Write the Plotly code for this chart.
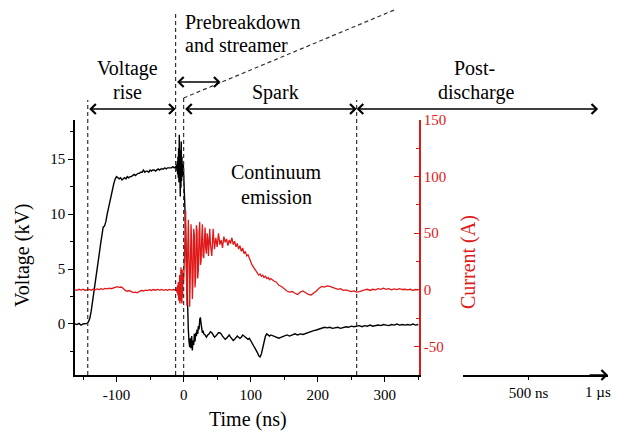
import plotly.graph_objects as go

W, H = 617, 433
FONT = "Liberation Serif"
RED = "#e01818"

# ---------------- data ----------------
# Voltage (kV) vs time (ns)
t_v_rise = [-162, -159, -156, -153, -150, -147, -144, -142, -140, -138, -136, -134, -132, -130,
            -128, -126, -124, -122, -120, -118, -116, -114, -112, -110, -108, -106, -104, -102,
            -100, -98, -96, -94, -92, -90, -88, -86, -84, -82, -80, -78, -76, -74, -72, -70,
            -68, -66, -64, -62, -60, -58, -56, -54, -52, -50, -48, -46, -44, -42, -40, -38,
            -36, -34, -32, -30, -28, -26, -24, -22, -20, -18, -16, -14, -12]
v_rise = [0.0, -0.05, 0.05, -0.1, 0.0, 0.05, 0.05, 0.2, 0.5, 1.1, 1.9, 2.8, 3.7, 4.6,
          5.5, 6.3, 7.2, 8.2, 8.8, 8.9, 9.3, 10.0, 10.6, 11.2, 11.8, 12.3, 12.8, 13.2,
          13.4, 13.3, 13.2, 13.3, 13.1, 13.2, 13.3, 13.2, 13.4, 13.3, 13.4, 13.4, 13.5, 13.6, 13.5, 13.6,
          13.7, 13.7, 13.8, 13.8, 14.0, 13.8, 13.9, 13.9, 13.8, 14.0, 13.9, 14.0, 14.0, 13.9, 14.0, 14.1,
          14.0, 14.1, 14.1, 14.1, 14.2, 14.1, 14.2, 14.2, 14.2, 14.2, 14.3, 14.2, 14.3]
t_v_break = [-11, -10.5, -10, -9.5, -9, -8.5, -8, -7.5, -7, -6.5, -6, -5.5, -5, -4.5, -4,
             -3.5, -3, -2.5, -2, -1.5, -1, -0.5, 0]
v_break = [14.2, 14.5, 13.9, 14.8, 13.6, 15.2, 13.3, 16.0, 12.9, 17.2, 12.2, 16.4, 11.6, 15.8, 12.4,
           16.6, 13.0, 15.2, 13.4, 14.9, 13.6, 14.6, 14.0]
t_v_drop = [1, 2, 3, 4, 5, 6, 7, 8, 9, 10, 11, 12, 13, 14, 15, 16, 17, 18, 19, 20,
            21, 22, 23, 24, 25, 26, 27, 28, 29, 30]
v_drop = [12.6, 10.4, 7.9, 5.4, 3.0, 1.0, -0.5, -1.6, -2.1, -1.3, -2.2, -1.1, -2.4, -1.5, -1.9,
          -0.9, -1.6, -0.8, -1.1, -0.5, -0.9, -0.2, -0.5, 0.4, 0.6, 0.0, -0.5, -0.8, -0.6, -0.9]
t_v_spark = [32, 34, 36, 38, 40, 42, 44, 46, 48, 50, 52, 54, 56, 58, 60, 62, 64, 66, 68, 70,
             72, 74, 76, 78, 80, 82, 84, 86, 88, 90, 92, 94, 96, 98, 100, 102, 104, 106, 108, 110,
             112, 114, 116, 118, 120, 122, 124, 126, 128, 130]
v_spark = [-1.0, -1.2, -1.0, -0.9, -0.7, -0.8, -1.0, -1.2, -1.1, -0.9,
           -0.8, -0.8, -0.9, -1.1, -1.3, -1.4, -1.3, -1.1, -1.0, -1.2,
           -1.4, -1.5, -1.4, -1.2, -1.1, -1.2, -1.3, -1.2, -1.0, -1.1,
           -1.2, -1.3, -1.4, -1.3, -1.5, -1.7, -1.9, -2.1, -2.4, -2.6,
           -2.9, -3.0, -2.7, -2.1, -1.5, -1.1, -0.9, -1.0, -1.1, -1.0]
t_v_post = [134, 138, 142, 146, 150, 154, 158, 162, 166, 170, 174, 178, 182, 186, 190, 194, 198,
            202, 206, 210, 214, 218, 222, 226, 230, 234, 238, 242, 246, 250, 254, 258, 262, 266,
            270, 274, 278, 282, 286, 290, 294, 298, 302, 306, 310, 314, 318, 322, 326, 330, 334,
            338, 342, 346, 350]
v_post = [-1.1, -1.2, -1.3, -1.2, -1.1, -1.0, -1.1, -1.0, -0.9, -1.0,
          -0.9, -0.95, -0.85, -0.8, -0.7, -0.6, -0.55, -0.45, -0.4, -0.3,
          -0.35, -0.3, -0.4, -0.35, -0.3, -0.4, -0.3, -0.25, -0.3, -0.2,
          -0.25, -0.2, -0.15, -0.25, -0.15, -0.2, -0.1, -0.2, -0.15, -0.1,
          -0.15, -0.05, -0.1, -0.15, -0.05, -0.1, 0.0, -0.1, -0.05, -0.1,
          -0.05, -0.1, 0.0, -0.1, -0.05]

# Current (A) vs time (ns)
t_i_pre = [-162, -159, -156, -153, -150, -147, -144, -141, -138, -135,
           -132, -129, -126, -123, -120, -117, -114, -111, -108, -105,
           -102, -99, -96, -93, -90, -87, -84, -81, -78, -75,
           -72, -69, -66, -63, -60, -57, -54, -51, -48, -45,
           -42, -39, -36, -33, -30, -27, -24, -21, -18, -15, -12]
i_pre = [0.3, -0.4, 0.5, -0.2, 0.6, -0.5, 0.2, 0.4, -0.3, 0.5,
         0.0, 0.8, 0.2, 1.0, 0.5, 1.2, 0.8, 1.5, 1.0, 1.8,
         2.4, 2.8, 2.2, 2.5, 1.2, -0.5, -1.2, -0.6, -1.6, -2.4,
         -2.0, -2.6, -1.2, -0.6, -1.0, -0.3, -0.6, 0.2, -0.5, 0.3,
         -0.3, 0.4, -0.2, 0.3, -0.4, 0.2, -0.3, 0.4, -0.2, 0.3, 0.0]
t_i_break = [-11, -10.5, -10, -9.5, -9, -8.5, -8, -7.5, -7, -6.5, -6, -5.5, -5, -4.5, -4,
             -3.5, -3, -2.5, -2, -1.5, -1, -0.5, 0]
i_break = [0.5, -1.5, 2.5, -3, 4, -5, 7, -8, 10, -10, 13, -12, 17, -11, 20,
           -9, 15, -12, 18, -6, 12, -3, 8]
t_i_osc = [1, 2, 3, 4, 5, 6, 7, 8, 9, 10, 11, 12, 13, 14, 15, 16, 17, 18, 19, 20,
           21, 22, 23, 24, 25, 26, 27, 28, 29, 30, 31, 32, 33, 34, 35, 36, 37, 38, 39, 40]
i_osc = [25, 48, 70, 20, -14, 30, 62, 28, -15, 15,
         58, 42, -8, 10, 54, 48, 2, 12, 57, 52,
         10, 18, 50, 60, 22, 25, 46, 58, 30, 28,
         44, 55, 36, 32, 50, 46, 30, 42, 54, 40]
t_i_decay = [42, 44, 46, 48, 50, 52, 54, 56, 58, 60, 62, 64, 66, 68, 70, 72, 74, 76, 78, 80,
             82, 84, 86, 88, 90, 92, 94, 96, 98, 100, 102, 104, 106, 108, 110, 112, 114, 116,
             118, 120, 122, 124, 126, 128, 130]
i_decay = [30, 54, 36, 46, 38, 50, 40, 44, 37, 47,
           42, 45, 39, 44, 41, 46, 40, 43, 38, 41,
           36, 39, 34, 37, 32, 34, 30, 31, 27, 25,
           22, 20, 18, 16, 15, 13, 14, 12, 13, 11,
           12, 10, 11, 9, 10]
t_i_post = t_v_post
i_post = [8, 7, 4, 3, 1, -1, -2, -1.5, -3, -4,
          -2, -1, -2.5, -4, -4.5, -3, -1, 1.5, 3, 2.5,
          3.5, 3, 2, 1, 0.5, 1, -0.5, 0, -1, -1.5,
          -1, -2, -1.5, -0.5, 0, 0.5, -0.5, 0.5, 0, 1,
          0.5, 1.5, 0.5, 1, 0, 0.8, 0.2, 1, 0.3, 0.5,
          0, 0.5, -0.5, 0.3, 0]

# axes / annotations content
x_ticks = [-100, 0, 100, 200, 300]
x_tick_text = ["-100", "0", "100", "200", "300"]
v_ticks = [0, 5, 10, 15]
i_ticks = [-50, 0, 50, 100, 150]
i_tick_text = ["-50", "0", "50", "100", "150"]
phase_bounds = [-143, -12, 0, 258]          # ns, dashed phase boundaries
prebreak_arrow_end = 55                     # ns

t_v = t_v_rise + t_v_break + t_v_drop + t_v_spark + t_v_post
v = v_rise + v_break + v_drop + v_spark + v_post
t_i = t_i_pre + t_i_break + t_i_osc + t_i_decay + t_i_post
cur = i_pre + i_break + i_osc + i_decay + i_post


def py(px):
    return 1 - px / H


def pxx(px):
    return px / W


fig = go.Figure()
fig.add_trace(go.Scatter(x=t_v, y=v, mode="lines", line=dict(color="black", width=1.4),
                         name="Voltage", hoverinfo="skip"))
fig.add_trace(go.Scatter(x=t_i, y=cur, mode="lines", yaxis="y2", line=dict(color=RED, width=1.3),
                         name="Current", hoverinfo="skip"))
fig.add_trace(go.Scatter(x=[], y=[], xaxis="x2", yaxis="y", showlegend=False, hoverinfo="skip"))

tickfont = dict(family=FONT, size=15, color="black")
fig.update_layout(
    width=W, height=H, margin=dict(l=0, r=0, t=0, b=0, autoexpand=False),
    paper_bgcolor="white", plot_bgcolor="white", showlegend=False,
    font=dict(family=FONT, size=15, color="black"),
    xaxis=dict(domain=[pxx(75), pxx(419)], range=[-162, 351], anchor="y", automargin=False,
               tickmode="array", tickvals=x_ticks, ticktext=x_tick_text, tickfont=tickfont,
               ticks="outside", ticklen=5, tickwidth=1.2, tickcolor="black",
               showline=True, linecolor="black", linewidth=1.5,
               showgrid=False, zeroline=False,
               minor=dict(dtick=50, tick0=0, ticks="outside", ticklen=3, tickwidth=1,
                          tickcolor="black", showgrid=False)),
    yaxis=dict(domain=[py(375), py(120)], range=[-4.64, 18.55], anchor="x", automargin=False,
               tickmode="array", tickvals=v_ticks, tickfont=tickfont,
               ticks="outside", ticklen=5, tickwidth=1.2, tickcolor="black",
               showline=True, linecolor="black", linewidth=1.5,
               showgrid=False, zeroline=False,
               minor=dict(dtick=2.5, tick0=0, ticks="outside", ticklen=3, tickwidth=1,
                          tickcolor="black", showgrid=False)),
    yaxis2=dict(overlaying="y", side="right", anchor="x", range=[-75.2, 150], automargin=False,
                tickmode="array", tickvals=i_ticks, ticktext=i_tick_text,
                tickfont=dict(family=FONT, size=15, color=RED),
                ticks="inside", ticklen=5, tickwidth=1.2, tickcolor=RED,
                showline=True, linecolor=RED, linewidth=1.5,
                showgrid=False, zeroline=False,
                minor=dict(dtick=25, tick0=0, ticks="inside", ticklen=3, tickwidth=1,
                           tickcolor=RED, showgrid=False)),
    xaxis2=dict(domain=[pxx(463), pxx(608)], range=[29, 1072], anchor="y", automargin=False,
                tickmode="array", tickvals=[500], ticktext=["500 ns"], tickfont=tickfont,
                ticks="outside", ticklen=3, tickwidth=1.2, tickcolor="black",
                showline=True, linecolor="black", linewidth=1.5,
                showgrid=False, zeroline=False),
)

# dashed phase boundaries
dash = dict(color="#333333", width=1.2, dash="4px,3px")
tops = [100, 13, 98, 100]
for tb, top in zip(phase_bounds, tops):
    fig.add_shape(type="line", xref="x", yref="paper", x0=tb, x1=tb, y0=py(375), y1=py(top),
                  line=dash, layer="above")
fig.add_shape(type="line", xref="x", yref="paper", x0=0, x1=314, y0=py(98), y1=py(10),
              line=dash, layer="above")

arrow_style = dict(showarrow=True, arrowside="end+start", arrowhead=4, startarrowhead=4,
                   arrowsize=1.5, startarrowsize=1.5, arrowwidth=1.3, arrowcolor="black",
                   standoff=0, startstandoff=0, text="")


def darrow(x0, x1, ypx):
    fig.add_annotation(x=x1, y=py(ypx), xref="x", yref="paper", ax=x0, axref="x",
                       ay=0, ayref="pixel", **arrow_style)


darrow(phase_bounds[0], phase_bounds[1], 109)
darrow(phase_bounds[2], phase_bounds[3], 109)
darrow(phase_bounds[1], prebreak_arrow_end, 82)
# post-discharge arrow runs past the broken axis to the 1 µs mark
fig.add_annotation(x=phase_bounds[3], y=py(109), xref="x", yref="paper", ax=243, axref="pixel",
                   ay=0, ayref="pixel", **arrow_style)
# arrow at end of the broken (µs) axis
fig.add_annotation(x=1072, y=py(375), xref="x2", yref="paper", ax=-20, ay=0, showarrow=True,
                   arrowhead=4, arrowsize=1.5, arrowwidth=1.3, arrowcolor="black", standoff=0,
                   text="")
fig.add_annotation(x=1000, y=py(392), xref="x2", yref="paper", text="1 µs", showarrow=False,
                   font=tickfont, xanchor="center", yanchor="middle")


def label(text, x, ypx, xref="x", xanchor="center", color="black", angle=0):
    fig.add_annotation(x=x, y=py(ypx), xref=xref, yref="paper", text=text, showarrow=False,
                       font=dict(family=FONT, size=20, color=color), xanchor=xanchor,
                       yanchor="middle", textangle=angle)


label("Prebreakdown", -1, 22, xanchor="left")
label("and streamer", -1, 45, xanchor="left")
label("Voltage", -84, 68)
label("rise", -84, 92)
label("Spark", 137, 92)
label("Post-", pxx(474), 68, xref="paper")
label("discharge", pxx(476), 92, xref="paper")
label("Continuum", 138, 172)
label("emission", 138, 197)

# axis titles
label("Voltage (kV)", pxx(22), 255, xref="paper", angle=-90)
label("Current (A)", pxx(468), 262, xref="paper", angle=-90, color=RED)
label("Time (ns)", pxx(248), 419, xref="paper")

fig.write_html("out.html")
